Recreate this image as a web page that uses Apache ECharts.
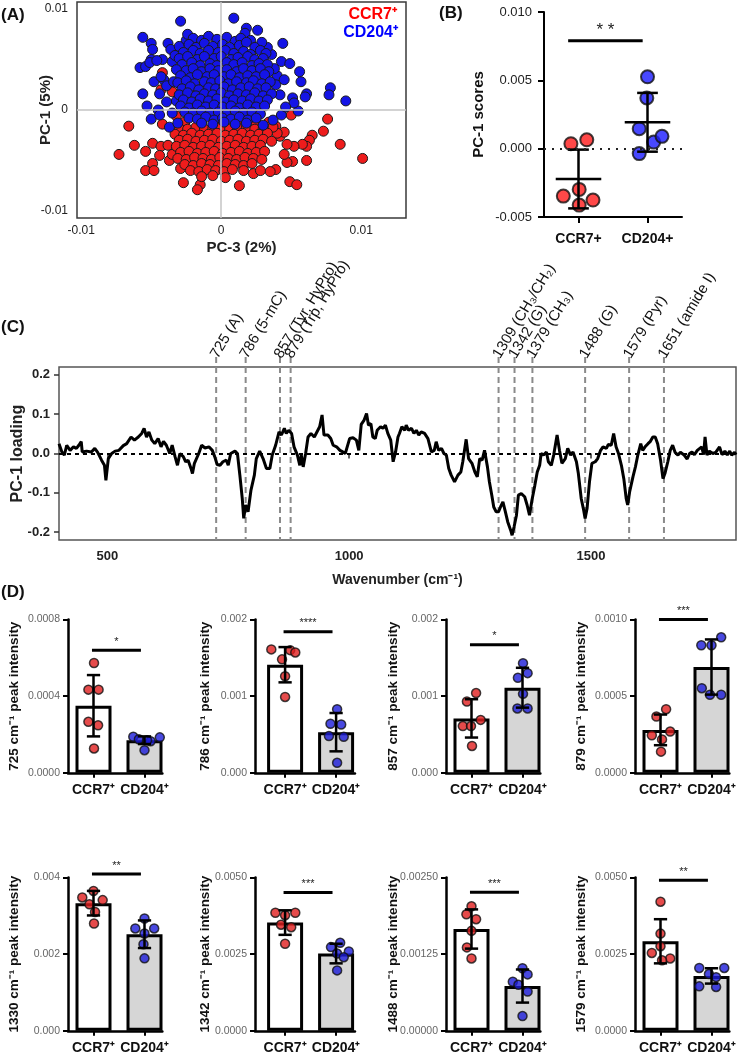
<!DOCTYPE html>
<html><head><meta charset="utf-8">
<script src="https://cdn.jsdelivr.net/npm/echarts@6/dist/echarts.min.js"></script>
<style>html,body{margin:0;padding:0;background:#fff}#c{width:740px;height:1054px}</style>
</head><body><div id="c"></div>
<script>
// ---------- Panel A: PCA scores (PC-3, PC-1) ----------
const pcaCCR7 = [
[-0.0073,-0.0044],[-0.0066,-0.0016],[-0.0062,-0.0035],[-0.0054,-0.0041],[-0.0049,-0.0053],[-0.0054,-0.0060],[-0.0048,-0.0060],[-0.0049,-0.0033],[-0.0043,-0.0036],[-0.0044,-0.0045],[-0.0038,-0.0035],[-0.0037,-0.0050],[-0.0027,-0.0072],[-0.0015,-0.0074],[-0.0017,-0.0079],[0.0013,-0.0075],[0.0049,-0.0071],[0.0054,-0.0074],[0.0061,-0.0050],[0.0101,-0.0048],[0.0085,-0.0034],[0.0073,-0.0021],[0.0076,-0.0009],[0.0065,-0.0025],[0.0063,-0.0030],[0.0061,-0.0036],[0.0058,-0.0034],[0.0052,-0.0036],[0.0047,-0.0034],[0.0051,-0.0051],[0.0047,-0.0052],[0.0045,-0.0044],[0.0042,-0.0026],[0.0045,-0.0022],[0.0039,-0.0059],[0.0035,-0.0061],[-0.0042,0.0037],[-0.0043,0.0020],[-0.0035,0.0018],[0.0035,0.0040],[-0.0032,-0.0006],[-0.0042,-0.0014],[0.0039,-0.0016],[0.0040,-0.0023],[0.0050,-0.0005],[0.0023,-0.0063],[-0.0029,-0.0058],[-0.0035,-0.0044],
[-0.0026,-0.0012],[-0.0014,-0.0011],[0.0012,-0.0013],[0.0024,-0.0011],[0.0034,-0.0012],
[-0.0030,-0.0018],[-0.0024,-0.0019],[-0.0018,-0.0017],[-0.0012,-0.0019],[-0.0006,-0.0018],[0.0000,-0.0017],[0.0006,-0.0019],[0.0012,-0.0018],[0.0018,-0.0017],[0.0024,-0.0019],[0.0030,-0.0018],[0.0037,-0.0017],
[-0.0033,-0.0024],[-0.0027,-0.0025],[-0.0021,-0.0023],[-0.0015,-0.0025],[-0.0009,-0.0024],[-0.0003,-0.0023],[0.0003,-0.0025],[0.0009,-0.0024],[0.0015,-0.0023],[0.0021,-0.0025],[0.0027,-0.0024],[0.0033,-0.0023],
[-0.0030,-0.0030],[-0.0024,-0.0029],[-0.0018,-0.0031],[-0.0012,-0.0030],[-0.0006,-0.0029],[0.0000,-0.0031],[0.0006,-0.0030],[0.0012,-0.0029],[0.0018,-0.0031],[0.0024,-0.0030],[0.0030,-0.0029],[0.0036,-0.0031],
[-0.0032,-0.0036],[-0.0026,-0.0035],[-0.0020,-0.0037],[-0.0014,-0.0036],[-0.0008,-0.0035],[-0.0002,-0.0037],[0.0004,-0.0036],[0.0010,-0.0035],[0.0016,-0.0037],[0.0022,-0.0036],[0.0028,-0.0035],
[-0.0029,-0.0042],[-0.0023,-0.0041],[-0.0017,-0.0043],[-0.0011,-0.0042],[-0.0005,-0.0041],[0.0001,-0.0043],[0.0007,-0.0042],[0.0013,-0.0041],[0.0019,-0.0043],[0.0025,-0.0042],[0.0031,-0.0041],
[-0.0031,-0.0048],[-0.0025,-0.0049],[-0.0019,-0.0047],[-0.0013,-0.0048],[-0.0007,-0.0049],[-0.0001,-0.0047],[0.0005,-0.0048],[0.0011,-0.0049],[0.0017,-0.0047],[0.0023,-0.0048],[0.0029,-0.0049],
[-0.0026,-0.0054],[-0.0020,-0.0055],[-0.0014,-0.0053],[-0.0008,-0.0054],[-0.0002,-0.0055],[0.0004,-0.0053],[0.0010,-0.0054],[0.0016,-0.0055],[0.0022,-0.0053],
[-0.0022,-0.0060],[-0.0016,-0.0061],[-0.0010,-0.0059],[-0.0004,-0.0060],[0.0002,-0.0061],[0.0008,-0.0059],[0.0016,-0.0060],[0.0028,-0.0060],
[-0.0014,-0.0066],[-0.0006,-0.0065],[0.0003,-0.0067]
];
const pcaCD204 = [
[-0.0029,0.0088],[0.0009,0.0091],[-0.0056,0.0072],[-0.0058,0.0042],[-0.0054,0.0043],[-0.0050,0.0066],[-0.0049,0.0060],[-0.0050,0.0050],[-0.0051,0.0047],[-0.0048,0.0028],[-0.0056,0.0016],[-0.0053,0.0004],[-0.0050,-0.0009],[-0.0045,0.0000],[-0.0044,-0.0005],[-0.0042,0.0050],[-0.0041,0.0030],[-0.0037,-0.0017],[-0.0038,0.0066],[-0.0036,0.0060],[-0.0035,0.0048],[0.0044,0.0066],[0.0043,0.0048],[0.0049,0.0046],[0.0056,0.0038],[0.0057,0.0028],[0.0061,0.0016],[0.0060,0.0013],[0.0078,0.0022],[0.0077,0.0015],[0.0089,0.0009],[0.0055,-0.0001],[0.0051,0.0012],[0.0052,0.0007],[0.0026,0.0079],[0.0018,0.0081],[0.0017,0.0076],[0.0030,-0.0015],[0.0037,-0.0010],[0.0043,-0.0005],[-0.0043,0.0033],[-0.0044,0.0016],[-0.0039,0.0024],[-0.0034,0.0028],[-0.0032,0.0009],[-0.0039,0.0008],[-0.0035,-0.0003],[-0.0031,-0.0013],[0.0040,0.0034],[0.0039,0.0025],[0.0042,0.0015],[0.0046,0.0003],[0.0036,0.0055],[0.0033,0.0062],[0.0029,0.0067],[0.0038,0.0041],[0.0045,0.0030],[-0.0046,0.0049],[-0.0033,0.0054],[-0.0025,0.0069],[-0.0024,0.0075],
[-0.0020,0.0071],[-0.0014,0.0069],[-0.0009,0.0073],[-0.0003,0.0070],[0.0004,0.0072],[0.0010,0.0068],[0.0014,0.0071],[0.0021,0.0069],
[-0.0030,0.0063],[-0.0023,0.0065],[-0.0018,0.0062],[-0.0012,0.0066],[-0.0006,0.0063],[0.0001,0.0065],[0.0006,0.0062],[0.0013,0.0064],[0.0018,0.0067],[0.0024,0.0062],
[-0.0027,0.0057],[-0.0020,0.0059],[-0.0015,0.0056],[-0.0009,0.0059],[-0.0002,0.0057],[0.0003,0.0059],[0.0009,0.0056],[0.0016,0.0058],[0.0021,0.0055],[0.0028,0.0059],[0.0032,0.0056],
[-0.0030,0.0051],[-0.0024,0.0053],[-0.0017,0.0050],[-0.0012,0.0053],[-0.0005,0.0051],[0.0000,0.0053],[0.0007,0.0050],[0.0012,0.0052],[0.0019,0.0053],[0.0024,0.0050],[0.0030,0.0051],
[-0.0028,0.0045],[-0.0021,0.0047],[-0.0015,0.0044],[-0.0008,0.0046],[-0.0003,0.0044],[0.0004,0.0047],[0.0009,0.0045],[0.0015,0.0047],[0.0022,0.0044],[0.0027,0.0046],[0.0033,0.0045],
[-0.0032,0.0040],[-0.0025,0.0039],[-0.0020,0.0041],[-0.0014,0.0038],[-0.0008,0.0041],[-0.0002,0.0039],[0.0004,0.0040],[0.0011,0.0038],[0.0016,0.0041],[0.0022,0.0039],[0.0028,0.0041],[0.0034,0.0038],
[-0.0029,0.0034],[-0.0022,0.0032],[-0.0017,0.0035],[-0.0010,0.0033],[-0.0005,0.0035],[0.0002,0.0033],[0.0007,0.0035],[0.0013,0.0032],[0.0019,0.0034],[0.0025,0.0033],[0.0031,0.0035],
[-0.0031,0.0027],[-0.0025,0.0029],[-0.0019,0.0026],[-0.0012,0.0028],[-0.0007,0.0027],[-0.0001,0.0029],[0.0005,0.0026],[0.0011,0.0028],[0.0018,0.0027],[0.0023,0.0029],[0.0029,0.0026],[0.0035,0.0028],
[-0.0028,0.0021],[-0.0022,0.0023],[-0.0016,0.0020],[-0.0009,0.0022],[-0.0004,0.0021],[0.0002,0.0023],[0.0008,0.0020],[0.0014,0.0022],[0.0020,0.0023],[0.0026,0.0021],[0.0032,0.0022],
[-0.0030,0.0015],[-0.0024,0.0017],[-0.0018,0.0014],[-0.0012,0.0016],[-0.0006,0.0015],[0.0000,0.0017],[0.0006,0.0014],[0.0012,0.0016],[0.0018,0.0015],[0.0024,0.0017],[0.0030,0.0014],[0.0036,0.0016],
[-0.0027,0.0010],[-0.0021,0.0008],[-0.0015,0.0011],[-0.0009,0.0009],[-0.0003,0.0011],[0.0003,0.0008],[0.0009,0.0010],[0.0015,0.0009],[0.0021,0.0011],[0.0027,0.0009],[0.0033,0.0010],
[-0.0029,0.0004],[-0.0023,0.0002],[-0.0017,0.0005],[-0.0011,0.0003],[-0.0005,0.0005],[0.0001,0.0003],[0.0007,0.0004],[0.0013,0.0002],[0.0019,0.0005],[0.0025,0.0003],[0.0031,0.0004],
[-0.0026,-0.0002],[-0.0020,-0.0003],[-0.0014,-0.0001],[-0.0008,-0.0003],[-0.0002,-0.0002],[0.0004,-0.0004],[0.0010,-0.0001],[0.0016,-0.0003],[0.0022,-0.0002],[0.0028,-0.0004],
[-0.0023,-0.0008],[-0.0017,-0.0009],[-0.0011,-0.0007],[-0.0005,-0.0010],[0.0001,-0.0008],[0.0007,-0.0009],[0.0013,-0.0007],[0.0019,-0.0010],[0.0025,-0.0008],
[-0.0014,-0.0013],[-0.0006,-0.0014],[0.0002,-0.0012],[0.0010,-0.0014],[0.0018,-0.0013]
];
const pcaTickValues = [-0.01, 0, 0.01];

// ---------- Panel B: PC-1 scores per donor ----------
const bCategories = ['CCR7+', 'CD204+'];
const bScoresCCR7 = [0.00036, 0.00065, -0.00347, -0.00298, -0.00413, -0.00376];
const bJitterCCR7 = [-0.11, 0.12, -0.22, 0.01, 0.01, 0.21];
const bScoresCD204 = [0.00526, 0.00371, 0.00146, 0.00048, 0.0009, -0.00036];
const bJitterCD204 = [0.0, -0.01, -0.12, 0.09, 0.21, -0.12];
const bMean = [-0.00222, 0.00193];
const bSD = [0.00215, 0.00215];
const bSigValue = 0.0079;
const bSigLabel = '* *';

// ---------- Panel C: PC-1 loading ----------
const wavenumber = [400,406,411,416,423,430,436,441,446,448,457,467,474,480,488,494,497,502,509,516,524,533,540,549,556,564,571,576,581,586,592,598,605,611,616,622,629,634,640,645,650,657,662,667,673,676,680,684,689,695,702,710,717,722,727,733,739,746,750,755,764,769,774,779,782,786,791,797,804,808,815,822,829,836,841,848,855,860,866,870,875,881,886,893,898,901,905,910,915,921,928,932,939,944,948,956,962,967,974,981,987,992,996,1001,1008,1015,1020,1025,1031,1036,1040,1045,1049,1054,1058,1065,1070,1075,1080,1086,1091,1096,1101,1104,1109,1115,1118,1123,1129,1134,1139,1144,1149,1156,1163,1170,1176,1180,1185,1191,1196,1201,1206,1211,1218,1225,1231,1235,1242,1247,1254,1260,1265,1270,1275,1280,1286,1290,1295,1299,1304,1309,1313,1318,1323,1328,1334,1337,1341,1346,1350,1356,1363,1368,1373,1378,1384,1389,1394,1397,1402,1408,1412,1418,1423,1430,1435,1440,1447,1452,1458,1463,1470,1474,1480,1485,1488,1492,1497,1502,1509,1514,1520,1525,1532,1536,1542,1547,1552,1557,1563,1568,1573,1576,1580,1587,1592,1597,1603,1607,1612,1618,1623,1628,1633,1638,1644,1649,1653,1659,1664,1669,1674,1680,1685,1692,1699,1704,1709,1714,1720,1724,1729,1733,1736,1740,1745,1752,1758,1766,1771,1777,1782,1787,1791,1797,1800];
const loading = [0.025,0.004,-0.004,0.021,0.008,0.017,0.013,0.021,0.03,0.004,0.006,0.004,0.013,0.003,-0.017,-0.03,-0.068,-0.013,0,0.006,0.008,0.02,0.025,0.042,0.034,0.042,0.051,0.064,0.042,0.055,0.034,0.025,0.038,0.017,0.031,0.021,0,0.021,-0.008,-0.03,0,-0.008,-0.021,-0.017,-0.038,-0.051,-0.025,-0.03,0,0.021,0.014,0.017,0.008,-0.008,-0.028,-0.03,-0.021,-0.017,-0.03,0,0.006,0,-0.055,-0.115,-0.165,-0.131,-0.148,-0.093,-0.055,-0.013,0.006,-0.013,-0.038,-0.038,-0.004,0.021,0.055,0.047,0.064,0.051,0.059,0.051,0.017,-0.004,-0.03,-0.004,-0.034,0,0.042,0.051,0.042,0.047,0.068,0.098,0.047,0.047,0.038,0.021,0.017,0.008,0.004,0,0.017,0.038,0.04,0.034,0.008,0.074,0.085,0.102,0.072,0.076,0.042,0.038,0.059,0.068,0.064,0.072,0.051,0.034,-0.021,0.004,0.042,0.051,0.068,0.059,0.072,0.059,0.064,0.051,0.059,0.047,0.055,0.051,0.038,0.004,0.008,0.03,0.008,0.013,0,-0.004,-0.038,-0.055,-0.072,-0.055,-0.047,-0.021,0.036,-0.013,-0.025,-0.047,-0.059,-0.013,-0.017,0.008,-0.034,-0.072,-0.106,-0.136,-0.148,-0.148,-0.136,-0.123,-0.148,-0.174,-0.195,-0.208,-0.187,-0.157,-0.106,-0.102,-0.11,-0.131,-0.157,-0.119,-0.081,-0.047,-0.03,0,-0.004,0.004,-0.021,-0.03,-0.004,0.047,0.008,-0.025,-0.013,0.013,-0.004,0.004,-0.021,-0.051,-0.115,-0.144,-0.165,-0.14,-0.072,-0.025,-0.021,-0.013,0.008,0.017,0.013,0.023,0.021,0.051,0.017,0,-0.03,-0.064,-0.115,-0.131,-0.098,-0.059,-0.034,-0.004,0.025,0.008,0.017,0.025,0.031,0.042,0.042,0.025,-0.017,-0.064,-0.051,-0.021,0.008,0.021,0.003,-0.004,0.003,-0.003,-0.014,0,0.004,-0.003,0.008,0.003,0.017,-0.003,0.042,-0.004,0.006,0,0.003,0.017,-0.003,0.006,-0.004,0.006,-0.004,0.003,-0.003];
const peakPositions = [725, 786, 857, 879, 1309, 1342, 1379, 1488, 1579, 1651];
const peakLabels = ['725 (A)', '786 (5-mC)', '857 (Tyr, HyPro)', '879 (Trp, HyPro)', '1309 (CH\u2083/CH\u2082)', '1342 (G)', '1379 (CH\u2083)', '1488 (G)', '1579 (Pyr)', '1651 (amide I)'];
const cXTicks = [500, 1000, 1500];
const cYTicks = [-0.2, -0.1, 0, 0.1, 0.2];

// ---------- Panel D: peak intensities ----------
const dCategories = ['CCR7\u207A', 'CD204\u207A'];
const dPeaks = ['725', '786', '857', '879', '1330', '1342', '1488', '1579'];
const dAxisMax = [0.0008, 0.002, 0.002, 0.001, 0.004, 0.005, 0.0025, 0.005];
const dDecimals = [4, 3, 3, 4, 3, 4, 5, 4];
const dMeanCCR7 = [0.00035, 0.00141, 0.00071, 0.00028, 0.00333, 0.00353, 0.00166, 0.00292];
const dSdCCR7 = [0.00016, 0.00023, 0.00025, 0.0001, 0.00032, 0.0004, 0.00032, 0.00072];
const dMeanCD204 = [0.00017, 0.00053, 0.00111, 0.00069, 0.00252, 0.00252, 0.00073, 0.00179];
const dSdCD204 = [0.00002, 0.00025, 0.00026, 0.00018, 0.00036, 0.00032, 0.00027, 0.00025];
const dPtsCCR7 = [
[0.000573,0.000434,0.000434,0.000266,0.000248,0.000127],
[0.00161,0.00160,0.00157,0.00148,0.00126,0.00099],
[0.00093,0.00104,0.00061,0.00061,0.00069,0.00035],
[0.000415,0.000367,0.000245,0.000269,0.000218,0.000138],
[0.00365,0.00348,0.00341,0.0033,0.0031,0.0028],
[0.00385,0.00385,0.00377,0.00346,0.00338,0.00284],
[0.00203,0.0019,0.00182,0.00163,0.00136,0.00118],
[0.00421,0.00317,0.00276,0.00254,0.00236,0.0023]];
const dJitCCR7 = [
[0.01,-0.10,0.10,-0.10,0.09,0.01],
[-0.27,0.10,0.20,-0.06,0,0],
[-0.09,0.09,-0.17,-0.01,0.18,0.01],
[0.11,-0.08,-0.17,0.19,0.03,0.01],
[0,-0.22,0.18,-0.08,0.03,0.01],
[-0.19,0.2,0,-0.08,0.12,0],
[0,-0.1,0.09,0,-0.09,0],
[0,0,0,-0.17,0.19,0.03]];
const dPtsCD204 = [
[0.000188,0.000175,0.000165,0.000185,0.000118,0.00017],
[0.00083,0.00064,0.00063,0.00048,0.00047,0.00013],
[0.00143,0.0013,0.00124,0.00103,0.00084,0.00084],
[0.000884,0.000832,0.000832,0.000552,0.000509,0.000509],
[0.00293,0.00267,0.00267,0.00254,0.00226,0.00189],
[0.00287,0.00273,0.00259,0.00252,0.0024,0.00197],
[0.00102,0.0008,0.00092,0.00075,0.00064,0.00024],
[0.00205,0.00205,0.00185,0.00175,0.00145,0.00143]];
const dJitCD204 = [
[-0.22,-0.11,0.12,0.30,0,0.05],
[0.02,-0.11,0.1,-0.14,0.15,0.02],
[0.01,0.1,-0.09,0.01,-0.1,0.1],
[0.19,-0.2,0,-0.19,-0.03,0.19],
[0,-0.18,0.19,0,-0.02,0],
[0.08,-0.1,0.25,0.02,0.15,0.02],
[0,-0.19,0.1,-0.08,0.1,0],
[-0.24,0.25,-0.05,0.09,-0.24,0.09]];
const dSigValue = [0.00064, 0.00184, 0.00167, 0.001, 0.00409, 0.00451, 0.00226, 0.00491];
const dSigStars = ['*', '****', '*', '***', '**', '***', '***', '**'];

// ================= build =================
const FONT = "'Liberation Sans', Arial, Helvetica, sans-serif";
const grids = [], xAxes = [], yAxes = [], series = [];
const gridBase = {containLabel: false, outerBoundsMode: 'none'};
const noLine = {show: false};

function errorBarItem(capHalf, meanHalf, lw) {
  return function (params, api) {
    const x = api.value(0), m = api.value(1), s = api.value(2);
    const pT = api.coord([x, m + s]), pB = api.coord([x, m - s]), pM = api.coord([x, m]);
    const ux = api.size([1, 0])[0];
    const st = {stroke: '#000', lineWidth: lw, fill: null};
    const ch = [
      {type: 'line', shape: {x1: pT[0], y1: pT[1], x2: pB[0], y2: pB[1]}, style: st},
      {type: 'line', shape: {x1: pT[0] - capHalf * ux, y1: pT[1], x2: pT[0] + capHalf * ux, y2: pT[1]}, style: st},
      {type: 'line', shape: {x1: pB[0] - capHalf * ux, y1: pB[1], x2: pB[0] + capHalf * ux, y2: pB[1]}, style: st}
    ];
    if (meanHalf) ch.push({type: 'line', shape: {x1: pM[0] - meanHalf * ux, y1: pM[1], x2: pM[0] + meanHalf * ux, y2: pM[1]}, style: st});
    return {type: 'group', children: ch};
  };
}
function sigItem(label, lw, fontSize, gap) {
  return function (params, api) {
    const p1 = api.coord([api.value(0), api.value(2)]), p2 = api.coord([api.value(1), api.value(2)]);
    return {type: 'group', children: [
      {type: 'line', shape: {x1: p1[0], y1: p1[1], x2: p2[0], y2: p2[1]}, style: {stroke: '#000', lineWidth: lw}},
      {type: 'text', style: {text: label, x: (p1[0] + p2[0]) / 2, y: p1[1] - gap, align: 'center', verticalAlign: 'bottom', textAlign: 'center', textVerticalAlign: 'bottom', fill: '#222', fontSize: fontSize, fontFamily: FONT}}
    ]};
  };
}

// ---- Panel A ----
grids.push(Object.assign({left: 77, top: 2, width: 329, height: 216, show: true, borderColor: '#3a3a3a', borderWidth: 1.5}, gridBase));
xAxes.push({type: 'value', gridIndex: 0, min: -0.0103, max: 0.0132,
  axisLine: noLine, axisTick: noLine, splitLine: noLine,
  axisLabel: {customValues: pcaTickValues, formatter: v => v === 0 ? '0' : v.toFixed(2), fontSize: 12, color: '#222', margin: 7, fontFamily: FONT},
  name: 'PC-3 (2%)', nameLocation: 'middle', nameGap: 22, nameMoveOverlap: false,
  nameTextStyle: {fontWeight: 'bold', fontSize: 15, color: '#222', fontFamily: FONT}});
yAxes.push({type: 'value', gridIndex: 0, min: -0.0107, max: 0.0107,
  axisLine: noLine, axisTick: noLine, splitLine: noLine,
  axisLabel: {customValues: pcaTickValues, formatter: v => v === 0 ? '0' : v.toFixed(2), fontSize: 12, color: '#222', margin: 9, fontFamily: FONT},
  name: 'PC-1 (5%)', nameLocation: 'middle', nameGap: 24, nameMoveOverlap: false,
  nameTextStyle: {fontWeight: 'bold', fontSize: 15, color: '#222', fontFamily: FONT}});
series.push({type: 'line', xAxisIndex: 0, yAxisIndex: 0, data: [], z: 1, silent: true,
  markLine: {silent: true, symbol: ['none', 'none'], label: {show: false}, animation: false,
    lineStyle: {color: '#c4c4c4', width: 1.5, type: 'solid'}, data: [{xAxis: 0}, {yAxis: 0}]}});
series.push({type: 'scatter', xAxisIndex: 0, yAxisIndex: 0, z: 2, symbolSize: 10, data: pcaCCR7,
  itemStyle: {color: '#ee1c1c', borderColor: '#1a1a1a', borderWidth: 1, opacity: 1}});
series.push({type: 'scatter', xAxisIndex: 0, yAxisIndex: 0, z: 3, symbolSize: 10, data: pcaCD204,
  itemStyle: {color: '#1414e6', borderColor: '#1a1a1a', borderWidth: 1, opacity: 1}});

// ---- Panel B ----
grids.push(Object.assign({left: 544, top: 12, width: 138, height: 205}, gridBase));
xAxes.push({type: 'value', gridIndex: 1, min: 0, max: 2,
  axisLine: {show: true, onZero: false, lineStyle: {color: '#000', width: 2}},
  axisTick: {show: true, customValues: [0.5, 1.5], length: 6, lineStyle: {color: '#000', width: 2}},
  splitLine: noLine,
  axisLabel: {customValues: [0.5, 1.5], formatter: v => bCategories[v < 1 ? 0 : 1], fontSize: 14, fontWeight: 'bold', color: '#111', margin: 15, fontFamily: FONT}});
yAxes.push({type: 'value', gridIndex: 1, min: -0.005, max: 0.01, interval: 0.005,
  axisLine: {show: true, onZero: false, lineStyle: {color: '#000', width: 2}},
  axisTick: {show: true, length: 6, lineStyle: {color: '#000', width: 2}},
  splitLine: noLine,
  axisLabel: {formatter: v => v.toFixed(3), fontSize: 13, color: '#222', margin: 12, fontFamily: FONT},
  name: 'PC-1 scores', nameLocation: 'middle', nameGap: 58, nameMoveOverlap: false,
  nameTextStyle: {fontWeight: 'bold', fontSize: 15, color: '#111', fontFamily: FONT}});
series.push({type: 'line', xAxisIndex: 1, yAxisIndex: 1, data: [], z: 1, silent: true,
  markLine: {silent: true, symbol: ['none', 'none'], label: {show: false}, animation: false,
    lineStyle: {color: '#222', width: 2, type: [2, 6]}, data: [{yAxis: 0}]}});
series.push({type: 'scatter', xAxisIndex: 1, yAxisIndex: 1, z: 2, symbolSize: 13,
  data: bScoresCCR7.map((v, i) => [0.5 + bJitterCCR7[i], v]),
  itemStyle: {color: '#ff1a1a', borderColor: '#111', borderWidth: 2}});
series.push({type: 'scatter', xAxisIndex: 1, yAxisIndex: 1, z: 2, symbolSize: 13,
  data: bScoresCD204.map((v, i) => [1.5 + bJitterCD204[i], v]),
  itemStyle: {color: '#1a1aff', borderColor: '#111', borderWidth: 2}});
series.push({type: 'custom', xAxisIndex: 1, yAxisIndex: 1, z: 3, clip: false, silent: true,
  encode: {x: 0, y: 1}, data: [[0.5, bMean[0], bSD[0]], [1.5, bMean[1], bSD[1]]],
  renderItem: errorBarItem(0.15, 0.33, 2.5)});
series.push({type: 'custom', xAxisIndex: 1, yAxisIndex: 1, z: 3, clip: false, silent: true,
  encode: {x: [0, 1], y: 2}, data: [[0.35, 1.43, bSigValue]],
  renderItem: sigItem(bSigLabel, 3, 17, 2)});

// ---- Panel C ----
grids.push(Object.assign({left: 59, top: 367, width: 677, height: 173, show: true, borderColor: '#555', borderWidth: 1.5}, gridBase));
xAxes.push({type: 'value', gridIndex: 2, min: 400, max: 1800,
  axisLine: noLine, splitLine: noLine,
  axisTick: {show: true, customValues: cXTicks, length: 5, lineStyle: {color: '#333', width: 1.5}},
  axisLabel: {customValues: cXTicks, formatter: v => String(v), fontSize: 13, fontWeight: 'bold', color: '#222', margin: 10, fontFamily: FONT},
  name: 'Wavenumber (cm\u207B\u00B9)', nameLocation: 'middle', nameGap: 33, nameMoveOverlap: false,
  nameTextStyle: {fontWeight: 'bold', fontSize: 14, color: '#222', fontFamily: FONT}});
yAxes.push({type: 'value', gridIndex: 2, min: -0.22, max: 0.22,
  axisLine: noLine, splitLine: noLine,
  axisTick: {show: true, customValues: cYTicks, length: 5, lineStyle: {color: '#333', width: 1.5}},
  axisLabel: {customValues: cYTicks, formatter: v => v.toFixed(1), fontSize: 13, fontWeight: 'bold', color: '#222', margin: 9, fontFamily: FONT},
  name: 'PC-1 loading', nameLocation: 'middle', nameGap: 33, nameMoveOverlap: false,
  nameTextStyle: {fontWeight: 'bold', fontSize: 16, color: '#222', fontFamily: FONT}});
series.push({type: 'custom', xAxisIndex: 2, yAxisIndex: 2, z: 2, clip: false, silent: true,
  encode: {x: 0, y: 1}, data: peakPositions.map(p => [p, 0]),
  renderItem: function (params, api) {
    const cs = params.coordSys;
    const x = api.coord([api.value(0), 0])[0];
    const top = cs.y - 10, bottom = cs.y + cs.height;
    return {type: 'group', children: [
      {type: 'line', shape: {x1: x, y1: top, x2: x, y2: bottom}, style: {stroke: '#8a8a8a', lineWidth: 2, lineDash: [6, 4]}},
      {type: 'text', x: x - 2, y: top, rotation: 59 * Math.PI / 180,
        style: {text: peakLabels[params.dataIndex], x: 0, y: 0, align: 'left', verticalAlign: 'middle', textAlign: 'left', textVerticalAlign: 'middle', fill: '#111', fontSize: 15, fontFamily: FONT}}
    ]};
  }});
series.push({type: 'line', xAxisIndex: 2, yAxisIndex: 2, z: 3, silent: true, showSymbol: false, symbol: 'none',
  data: wavenumber.map((w, i) => [w, loading[i]]),
  lineStyle: {color: '#000', width: 3},
  markLine: {silent: true, symbol: ['none', 'none'], label: {show: false}, animation: false,
    lineStyle: {color: '#000', width: 2, type: [4, 4]}, data: [{yAxis: 0}]}});

// ---- Panel D ----
const dColLeft = [68, 255, 446, 635];
const dColXMin = [0, -0.09, 0, 0];
const dColXMax = [1.85, 1.87, 1.85, 1.85];
const dRowTop = [619.5, 877.5];
const dNameGap = [47, 43, 46, 47];
for (let i = 0; i < 8; i++) {
  const col = i % 4, row = Math.floor(i / 4), g = 3 + i;
  grids.push(Object.assign({left: dColLeft[col], top: dRowTop[row], width: (dColXMax[col] - dColXMin[col]) * 51, height: 153.3}, gridBase));
  xAxes.push({type: 'value', gridIndex: g, min: dColXMin[col], max: dColXMax[col],
    axisLine: {show: true, onZero: false, lineStyle: {color: '#000', width: 2.5}},
    axisTick: {show: true, customValues: [0.5, 1.5], length: 5, lineStyle: {color: '#000', width: 2}},
    splitLine: noLine,
    axisLabel: {customValues: [0.5, 1.5], formatter: v => dCategories[v < 1 ? 0 : 1], fontSize: 14, fontWeight: 'bold', color: '#111', margin: 10, fontFamily: FONT}});
  yAxes.push({type: 'value', gridIndex: g, min: 0, max: dAxisMax[i], interval: dAxisMax[i] / 2,
    axisLine: {show: true, onZero: false, lineStyle: {color: '#000', width: 2.5}},
    axisTick: {show: true, length: 5, lineStyle: {color: '#000', width: 2}},
    splitLine: noLine,
    axisLabel: {formatter: v => v.toFixed(dDecimals[i]), fontSize: 10.5, color: '#666', margin: 8, fontFamily: FONT},
    name: dPeaks[i] + ' cm\u207B\u00B9 peak intensity', nameLocation: 'middle', nameGap: dNameGap[col], nameMoveOverlap: false,
    nameTextStyle: {fontWeight: 'bold', fontSize: 13.5, color: '#111', fontFamily: FONT}});
  series.push({type: 'bar', xAxisIndex: g, yAxisIndex: g, z: 1, barWidth: 36, silent: true,
    data: [{value: [0.5, dMeanCCR7[i]], itemStyle: {color: '#ffffff'}}, {value: [1.5, dMeanCD204[i]], itemStyle: {color: '#d6d6d6'}}],
    itemStyle: {borderColor: '#000', borderWidth: 3}});
  series.push({type: 'scatter', xAxisIndex: g, yAxisIndex: g, z: 2, symbolSize: 9, silent: true,
    data: dPtsCCR7[i].map((v, k) => [0.5 + dJitCCR7[i][k], v]),
    itemStyle: {color: '#e01e1e', borderColor: '#111', borderWidth: 1.5}});
  series.push({type: 'scatter', xAxisIndex: g, yAxisIndex: g, z: 2, symbolSize: 9, silent: true,
    data: dPtsCD204[i].map((v, k) => [1.5 + dJitCD204[i][k], v]),
    itemStyle: {color: '#1c1cd8', borderColor: '#111', borderWidth: 1.5}});
  series.push({type: 'custom', xAxisIndex: g, yAxisIndex: g, z: 3, clip: false, silent: true,
    encode: {x: 0, y: 1}, data: [[0.5, dMeanCCR7[i], dSdCCR7[i]], [1.5, dMeanCD204[i], dSdCD204[i]]],
    renderItem: errorBarItem(0.13, 0, 2.5)});
  series.push({type: 'custom', xAxisIndex: g, yAxisIndex: g, z: 3, clip: false, silent: true,
    encode: {x: [0, 1], y: 2}, data: [[0.47, 1.43, dSigValue[i]]],
    renderItem: sigItem(dSigStars[i], 3, 11, 3)});
}

function label(text, x, y, size, color, align) {
  return {type: 'text', x: x, y: y, silent: true,
    style: {text: text, x: 0, y: 0, fill: color || '#111', fontSize: size, fontWeight: 'bold', fontFamily: FONT,
      align: align || 'left', verticalAlign: 'middle', textAlign: align || 'left', textVerticalAlign: 'middle'}};
}
const graphic = [
  label('(A)', 1, 15, 17), label('(B)', 439, 13, 17), label('(C)', 1, 327, 17), label('(D)', 1, 592, 17),
  label('CCR7\u207A', 397, 15, 16, '#ff0000', 'right'),
  label('CD204\u207A', 398, 33, 16, '#0000ff', 'right')
];

const chart = echarts.init(document.getElementById('c'), null, {renderer: 'canvas', width: 740, height: 1054});
chart.setOption({animation: false, textStyle: {fontFamily: FONT}, grid: grids, xAxis: xAxes, yAxis: yAxes, series: series, graphic: graphic});
</script>
</body></html>
